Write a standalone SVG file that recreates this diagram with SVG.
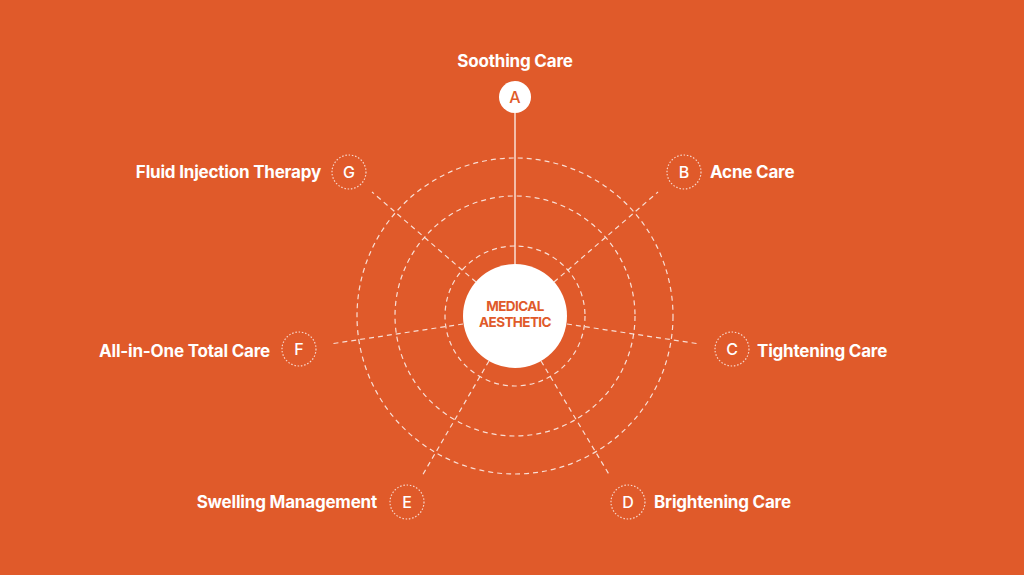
<svg xmlns="http://www.w3.org/2000/svg" width="1024" height="575" viewBox="0 0 1024 575">
<style>
.ring{fill:none;stroke:#ffffff;stroke-opacity:0.8;stroke-width:1.2;stroke-dasharray:5 4}
.spoke{fill:none;stroke:#ffffff;stroke-opacity:0.8;stroke-width:1.2;stroke-dasharray:5 4}
.solid{fill:none;stroke:#ffffff;stroke-opacity:0.8;stroke-width:1.5}
.dot{fill:none;stroke:#ffffff;stroke-opacity:0.75;stroke-width:1.2;stroke-dasharray:1.5 1.8}
.lbl{font-family:Inter,"Liberation Sans",sans-serif;font-weight:700;font-size:17px;fill:#ffffff;letter-spacing:-0.2px}
.let{font-family:Inter,"Liberation Sans",sans-serif;font-weight:500;font-size:16px;fill:#ffffff;text-anchor:middle}
.ctr{font-family:Inter,"Liberation Sans",sans-serif;font-weight:700;font-size:13.5px;fill:#E05A2A;text-anchor:middle;letter-spacing:-0.6px}
</style>
<rect x="0" y="0" width="1024" height="575" fill="#E05A2A"/>
<g id="rings">
<circle class="ring" cx="515" cy="316" r="70"/>
<circle class="ring" cx="515" cy="316" r="120"/>
<circle class="ring" cx="515" cy="316" r="158"/>
</g>
<g id="connectors">
<line class="solid" x1="515" y1="113" x2="515" y2="264"/>
<line class="spoke" x1="476" y1="282" x2="372" y2="192"/>
<line class="spoke" x1="554" y1="282" x2="658" y2="192"/>
<line class="spoke" x1="463" y1="324" x2="330" y2="344"/>
<line class="spoke" x1="567" y1="324" x2="700" y2="344"/>
<line class="spoke" x1="489" y1="361" x2="422" y2="476"/>
<line class="spoke" x1="541" y1="361" x2="610" y2="476"/>
</g>
<g id="center">
<circle cx="515" cy="316" r="52" fill="#ffffff"/>
<text class="ctr" x="515" y="311">MEDICAL</text>
<text class="ctr" x="515" y="327">AESTHETIC</text>
</g>
<g id="node-a">
<circle cx="515" cy="97" r="16" fill="#ffffff"/>
<text class="let" x="515" y="102.5" style="fill:#E05A2A">A</text>
<text class="lbl" x="515" y="67" text-anchor="middle">Soothing Care</text>
</g>
<g id="node-b">
<circle class="dot" cx="684" cy="172" r="17"/>
<text class="let" x="684" y="177.5">B</text>
<text class="lbl" x="710" y="178">Acne Care</text>
</g>
<g id="node-c">
<circle class="dot" cx="732" cy="349" r="17"/>
<text class="let" x="732" y="354.5">C</text>
<text class="lbl" x="757" y="357">Tightening Care</text>
</g>
<g id="node-d">
<circle class="dot" cx="628" cy="502" r="17"/>
<text class="let" x="628" y="507.5">D</text>
<text class="lbl" x="654" y="508">Brightening Care</text>
</g>
<g id="node-e">
<circle class="dot" cx="407" cy="502" r="17"/>
<text class="let" x="407" y="507.5">E</text>
<text class="lbl" x="377" y="508" text-anchor="end">Swelling Management</text>
</g>
<g id="node-f">
<circle class="dot" cx="299" cy="349" r="17"/>
<text class="let" x="299" y="354.5">F</text>
<text class="lbl" x="270" y="357" text-anchor="end">All-in-One Total Care</text>
</g>
<g id="node-g">
<circle class="dot" cx="349" cy="172" r="17"/>
<text class="let" x="349" y="177.5">G</text>
<text class="lbl" x="321" y="178" text-anchor="end">Fluid Injection Therapy</text>
</g>
</svg>
